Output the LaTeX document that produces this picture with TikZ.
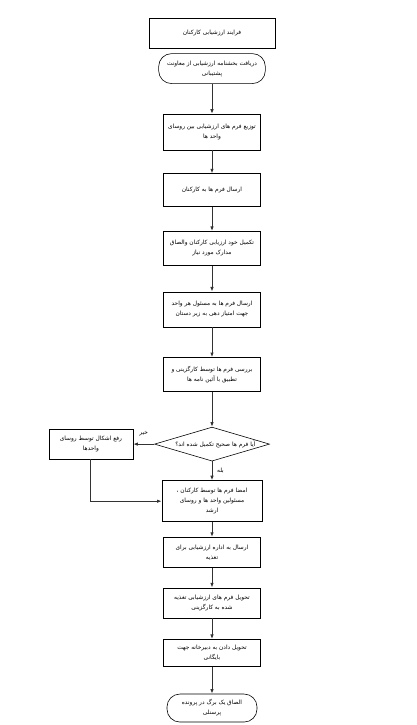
\documentclass[tikz,border=0pt]{standalone}
\usepackage{fontspec}
\usepackage{tikz}
\usetikzlibrary{arrows.meta, positioning, shapes.geometric}
\newfontfamily\farsi[Script=Arabic]{DejaVu Sans}
\TeXXeTstate=1
\newcommand{\fa}[1]{{\farsi\beginR #1\endR}}

\begin{document}
\begin{tikzpicture}[thick]

	\tikzset{
		stepbox/.style={
				rectangle, draw=black, line width=0.5pt, inner sep=1pt, minimum width=2.91cm, align=center,
				font=\fontsize{5}{8.5}\selectfont
			},
		termbox/.style={
				rectangle, rounded corners=11pt, draw=black, line width=0.5pt, inner sep=1pt, align=center,
				font=\fontsize{5}{8.5}\selectfont
			},
		decision/.style={
				diamond, draw=black, line width=0.5pt, inner sep=0pt, minimum width=3.45cm, minimum height=1.02cm
			},
		flow/.style={
				draw=black!80, line width=0.8pt, -{Latex[length=4pt, width=3pt]}
			},
		answer/.style={
				font=\fontsize{5}{6}\selectfont, inner sep=1pt
			},
	}

	\useasboundingbox (0,0) rectangle (12.51,-21.75);

	\node[stepbox, minimum width=3.78cm, minimum height=0.9cm](title) at (6.36,-0.99) {\fa{فرایند ارزشیابی کارکنان}};
	\node[termbox, minimum width=3.2cm, minimum height=0.9cm, below=0.15cm of title](start) {\fa{دریافت بخشنامه ارزشیابی از معاونت}\\\fa{پشتیبانی}};
	\node[stepbox, minimum height=1.08cm, below=0.9cm of start](s1) {\fa{توزیع فرم های ارزشیابی بین روسای}\\\fa{واحد ها}};
	\node[stepbox, minimum height=0.99cm, below=0.69cm of s1](s2) {\fa{ارسال فرم ها به کارکنان}};
	\node[stepbox, minimum height=1.02cm, below=0.72cm of s2](s3) {\fa{تکمیل خود ارزیابی کارکنان والصاق}\\\fa{مدارک مورد نیاز}};
	\node[stepbox, minimum height=1.05cm, below=0.78cm of s3](s4) {\fa{ارسال فرم ها به مسئول هر واحد}\\\fa{جهت امتیاز دهی به زیر دستان}};
	\node[stepbox, minimum height=1.02cm, below=0.9cm of s4](s5) {\fa{بررسی فرم ها توسط کارگزینی و}\\\fa{تطبیق با آئین نامه ها}};
	\node[decision, below=1.05cm of s5](dec){};
	\node[font=\fontsize{5}{6}\selectfont, inner sep=0pt](dectext) at ([xshift=0.1cm]dec.center) {\fa{آیا فرم ها صحیح تکمیل شده اند؟}};
	\node[stepbox, minimum width=2.52cm, minimum height=0.9cm, left=0.63cm of dec](fix) {\fa{رفع اشکال توسط روسای}\\\fa{واحدها}};
	\node[stepbox, minimum width=3.0cm, minimum height=1.23cm, below=0.57cm of dec](sign) {\fa{امضا فرم ها توسط کارکنان ،}\\\fa{مسئولین واحد ها و روسای}\\\fa{ارشد}};
	\node[stepbox, minimum height=0.9cm, below=0.45cm of sign](s6) {\fa{ارسال به اداره ارزشیابی برای}\\\fa{تغذیه}};
	\node[stepbox, minimum height=0.9cm, below=0.6cm of s6](s7) {\fa{تحویل فرم های ارزشیابی تغذیه}\\\fa{شده به کارگزینی}};
	\node[stepbox, minimum height=0.81cm, below=0.63cm of s7](s8) {\fa{تحویل دادن به دبیرخانه جهت}\\\fa{بایگانی}};
	\node[termbox, minimum width=2.7cm, minimum height=0.84cm, below=0.81cm of s8](finish) {\fa{الصاق یک برگ در پرونده}\\\fa{پرسنلی}};

	\draw[flow] (start) to (s1);
	\draw[flow] (s1) to (s2);
	\draw[flow] (s2) to (s3);
	\draw[flow] (s3) to (s4);
	\draw[flow] (s4) to (s5);
	\draw[flow] (s5) to (dec);
	\draw[flow] (dec) to node[answer, right=3pt]{\fa{بله}} (sign);
	\draw[flow] (dec) to node[answer, above=6pt]{\fa{خیر}} (fix);
	\draw[flow] (fix.south) |- (sign.west);
	\draw[flow] (sign) to (s6);
	\draw[flow] (s6) to (s7);
	\draw[flow] (s7) to (s8);
	\draw[flow] (s8) to (finish);
\end{tikzpicture}
\end{document}
